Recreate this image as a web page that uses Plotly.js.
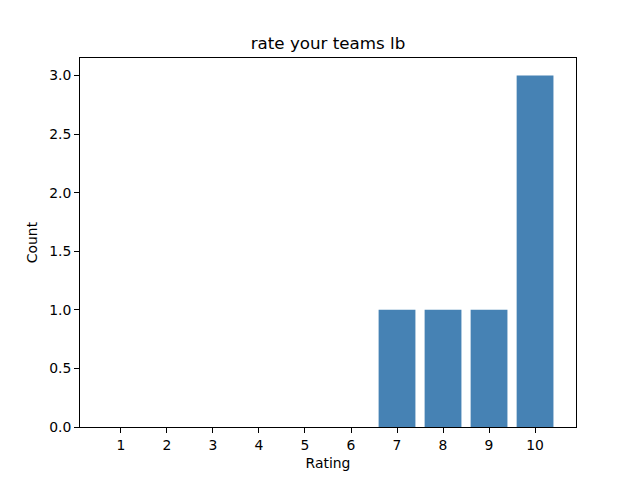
<!DOCTYPE html>
<html>
<head>
<meta charset="utf-8">
<script src="https://cdn.plot.ly/plotly-3.0.1.min.js"></script>
<style>body{margin:0;} #chart{width:640px;height:480px;}</style>
</head>
<body>
<div id="chart"></div>
<script>
let ratings = [1, 2, 3, 4, 5, 6, 7, 8, 9, 10]
let counts = [0, 0, 0, 0, 0, 0, 1, 1, 1, 3]
let yTicks = [0, 0.5, 1, 1.5, 2, 2.5, 3]

let axisStyle = {
    showline: true,
    mirror: true,
    linecolor: "black",
    linewidth: 1,
    ticks: "outside",
    ticklen: 5,
    tickcolor: "black",
    showgrid: false,
    zeroline: false,
    tickfont: { size: 13.9, color: "black" }
}

let trace = {
    x: ratings,
    y: counts,
    type: "bar",
    width: 0.8,
    marker: { color: "#4682b4", line: { width: 0 } },
    hoverinfo: "x+y"
}

let layout = {
    width: 640,
    height: 480,
    font: { family: "DejaVu Sans", color: "black" },
    title: {
        text: "rate your teams lb",
        font: { size: 16.7 },
        x: 0.5, xref: "paper",
        y: 1 - 43 / 480, yref: "container", yanchor: "middle"
    },
    margin: { l: 80, r: 64, t: 58, b: 53 },
    paper_bgcolor: "white",
    plot_bgcolor: "white",
    xaxis: Object.assign({}, axisStyle, {
        range: [0.11, 10.89],
        tickvals: ratings,
        ticktext: ratings.map(String),
        title: { text: "Rating", font: { size: 13.9 }, standoff: 6 }
    }),
    yaxis: Object.assign({}, axisStyle, {
        range: [0, 3.15],
        tickvals: yTicks,
        ticktext: yTicks.map(v => v.toFixed(1)),
        title: { text: "Count", font: { size: 13.9 }, standoff: 8 }
    }),
    showlegend: false
}

Plotly.newPlot("chart", [trace], layout, { displayModeBar: false })
</script>
</body>
</html>
